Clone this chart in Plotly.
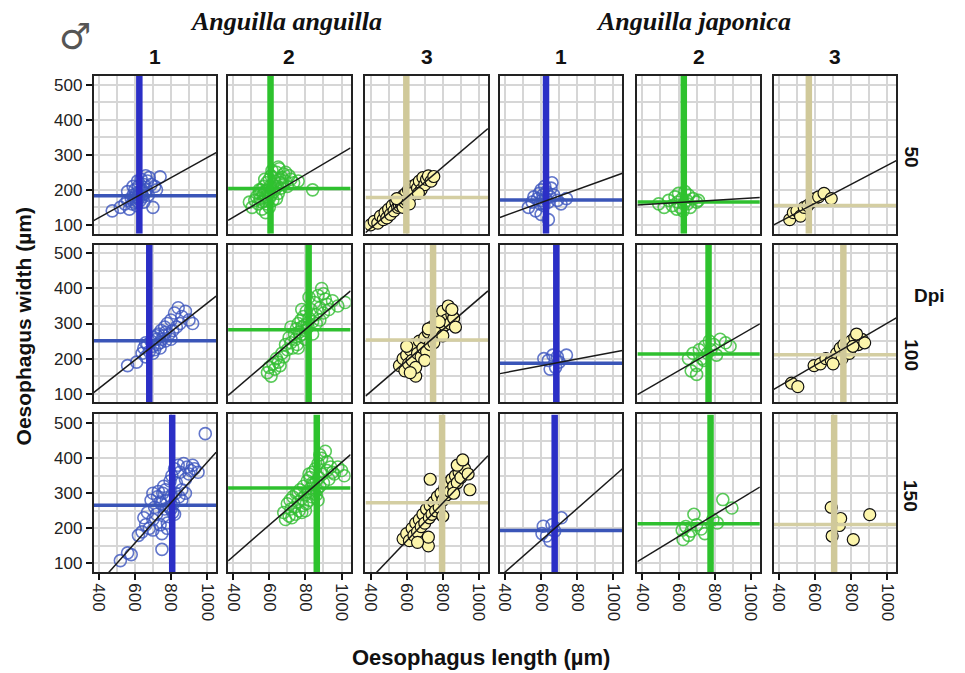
import plotly.graph_objects as go

# ---------------- data ----------------
groups = ["1", "2", "3", "1", "2", "3"]
species = ["Anguilla anguilla", "Anguilla japonica"]
dpi_labels = ["50", "100", "150"]
x_ticks = [400, 600, 800, 1000]
y_ticks = [100, 200, 300, 400, 500]

# 50 dpi
aa1_50_x = [475, 520, 545, 560, 570, 580, 585, 590, 595, 600, 600, 605, 610, 610, 615, 620, 620, 625, 630, 630, 635, 640, 640, 645, 650, 655, 660, 665, 670, 675, 680, 690, 700, 710, 720, 740, 560, 590, 615, 650]
aa1_50_y = [140, 150, 160, 170, 145, 175, 160, 185, 165, 180, 200, 170, 190, 155, 180, 210, 175, 185, 195, 170, 230, 200, 185, 180, 215, 190, 240, 200, 225, 185, 235, 215, 150, 210, 200, 237, 195, 210, 225, 165]
aa2_50_x = [490, 505, 520, 530, 540, 545, 550, 555, 560, 565, 570, 570, 575, 580, 585, 585, 590, 595, 600, 600, 605, 610, 610, 615, 620, 625, 630, 635, 640, 645, 650, 655, 660, 665, 670, 675, 680, 690, 700, 710, 720, 735, 760, 840, 560, 580, 600, 620, 640, 660, 545, 575, 615, 650, 690]
aa2_50_y = [165, 150, 170, 180, 160, 190, 175, 200, 165, 185, 210, 170, 195, 180, 220, 160, 200, 190, 230, 175, 210, 185, 240, 200, 215, 195, 225, 205, 250, 210, 190, 260, 220, 205, 235, 215, 245, 225, 210, 240, 230, 220, 225, 200, 145, 135, 150, 170, 175, 230, 200, 230, 255, 265, 250]
aa3_50_x = [400, 420, 440, 455, 470, 480, 490, 500, 510, 520, 530, 540, 550, 555, 560, 565, 570, 575, 580, 585, 590, 595, 600, 610, 620, 630, 640, 650, 660, 670, 680, 690, 700, 710, 720, 735, 750, 545, 615, 665]
aa3_50_y = [100, 110, 105, 125, 115, 135, 120, 145, 130, 155, 140, 165, 150, 170, 155, 175, 160, 180, 150, 185, 165, 190, 170, 200, 180, 210, 195, 215, 205, 225, 200, 235, 215, 230, 240, 225, 238, 175, 160, 190]
aj1_50_x = [530, 550, 560, 570, 580, 590, 595, 600, 605, 610, 615, 620, 625, 630, 640, 650, 660, 670, 690, 710, 740, 600, 640, 655]
aj1_50_y = [150, 165, 180, 140, 175, 190, 160, 200, 170, 185, 155, 210, 175, 195, 165, 180, 220, 185, 170, 160, 175, 130, 115, 205]
aj2_50_x = [490, 520, 545, 565, 580, 595, 600, 610, 620, 630, 635, 645, 655, 665, 680, 700, 710, 625, 590, 650]
aj2_50_y = [160, 150, 170, 155, 180, 165, 190, 150, 175, 160, 195, 170, 185, 150, 175, 165, 170, 140, 145, 160]
aj3_50_x = [460, 480, 500, 520, 540, 560, 580, 600, 620, 650, 690]
aj3_50_y = [115, 135, 140, 125, 150, 155, 165, 175, 180, 190, 175]

# 100 dpi
aa1_100_x = [560, 610, 640, 650, 660, 670, 680, 690, 700, 705, 710, 720, 725, 730, 740, 745, 750, 760, 765, 770, 780, 790, 800, 810, 820, 830, 840, 850, 860, 880, 900, 920, 700, 740, 770, 800, 660, 720]
aa1_100_y = [180, 190, 215, 230, 205, 240, 220, 250, 235, 260, 225, 255, 240, 270, 245, 280, 255, 265, 290, 250, 300, 270, 310, 280, 330, 290, 345, 300, 320, 335, 310, 300, 215, 230, 275, 255, 245, 265]
aa2_100_x = [590, 600, 610, 620, 630, 640, 650, 660, 670, 680, 690, 700, 710, 720, 730, 740, 745, 750, 755, 760, 765, 770, 775, 780, 785, 790, 795, 800, 805, 810, 815, 820, 830, 840, 850, 860, 870, 880, 890, 900, 910, 920, 930, 950, 980, 1020, 760, 800, 840, 880, 720, 860, 900, 780, 820]
aa2_100_y = [160, 175, 150, 185, 170, 200, 190, 180, 215, 205, 240, 225, 260, 245, 230, 270, 255, 285, 240, 300, 275, 265, 310, 290, 270, 320, 295, 280, 335, 300, 290, 315, 340, 305, 360, 325, 380, 345, 400, 330, 370, 355, 340, 365, 350, 360, 230, 255, 270, 310, 290, 300, 385, 340, 375]
aa3_100_x = [560, 580, 590, 600, 610, 620, 630, 640, 650, 660, 670, 680, 690, 700, 710, 720, 730, 740, 750, 760, 770, 780, 790, 800, 810, 820, 830, 840, 850, 860, 870, 600, 650, 700, 750, 800, 850, 720, 780, 620]
aa3_100_y = [180, 200, 165, 210, 185, 225, 195, 240, 150, 215, 250, 205, 230, 260, 220, 275, 240, 290, 255, 300, 265, 320, 280, 335, 295, 310, 350, 300, 325, 315, 290, 235, 175, 195, 245, 265, 340, 285, 305, 160]
aj1_100_x = [615, 640, 665, 690, 700, 740, 650, 680]
aj1_100_y = [200, 195, 210, 205, 190, 210, 170, 175]
aj2_100_x = [655, 670, 680, 700, 715, 730, 745, 760, 770, 780, 795, 810, 830, 860, 885, 700, 740]
aj2_100_y = [200, 165, 215, 180, 225, 200, 235, 215, 250, 225, 240, 210, 255, 245, 235, 155, 195]
aj3_100_x = [470, 505, 595, 630, 660, 690, 720, 740, 760, 780, 800, 820, 840, 860, 875, 750, 790, 810, 700, 830]
aj3_100_y = [130, 120, 180, 185, 200, 195, 215, 230, 240, 225, 250, 260, 240, 255, 245, 200, 215, 235, 185, 270]

# 150 dpi
aa1_150_x = [520, 560, 580, 620, 640, 650, 660, 670, 680, 690, 700, 700, 710, 720, 725, 730, 740, 745, 750, 755, 760, 765, 770, 775, 780, 790, 795, 800, 805, 810, 815, 820, 825, 830, 840, 845, 850, 860, 870, 880, 890, 900, 910, 920, 930, 950, 990, 750, 780, 820, 860, 700, 760, 880, 740, 800]
aa1_150_y = [108, 130, 125, 180, 190, 230, 210, 245, 200, 280, 225, 300, 260, 240, 290, 305, 210, 270, 140, 300, 235, 255, 310, 280, 215, 260, 335, 290, 350, 245, 270, 370, 300, 330, 380, 290, 360, 310, 385, 340, 375, 355, 365, 380, 370, 360, 470, 185, 200, 240, 280, 195, 320, 300, 275, 255]
aa2_150_x = [680, 690, 700, 710, 715, 720, 725, 730, 740, 745, 750, 760, 765, 770, 780, 785, 790, 800, 805, 810, 815, 820, 825, 830, 835, 840, 845, 850, 855, 860, 865, 870, 875, 880, 890, 895, 900, 910, 920, 930, 940, 950, 960, 980, 1000, 1015, 760, 800, 840, 880, 920, 860, 820, 780, 870]
aa2_150_y = [245, 225, 270, 235, 280, 255, 230, 290, 260, 240, 300, 275, 250, 310, 285, 265, 320, 295, 270, 335, 305, 280, 345, 315, 290, 360, 325, 300, 370, 335, 310, 385, 345, 320, 400, 355, 330, 420, 365, 340, 375, 360, 355, 375, 365, 350, 300, 250, 330, 410, 390, 295, 355, 245, 280]
aa3_150_x = [580, 600, 615, 630, 640, 650, 660, 670, 680, 690, 700, 710, 720, 725, 730, 740, 750, 760, 770, 780, 790, 800, 810, 820, 830, 840, 850, 860, 870, 880, 890, 900, 910, 920, 940, 950, 730, 720, 800, 860, 660, 880, 910]
aa3_150_y = [170, 185, 165, 200, 180, 215, 190, 225, 205, 240, 215, 255, 150, 230, 265, 240, 275, 250, 290, 260, 300, 280, 315, 295, 330, 305, 340, 320, 350, 330, 360, 345, 390, 370, 355, 310, 340, 175, 235, 300, 160, 380, 395]
aj1_150_x = [605, 612, 630, 650, 675, 712, 660]
aj1_150_y = [185, 206, 178, 164, 192, 230, 210]
aj2_150_x = [620, 625, 640, 655, 670, 685, 700, 725, 745, 790, 815, 845, 895]
aj2_150_y = [195, 168, 205, 180, 192, 240, 210, 198, 185, 225, 215, 282, 258]
aj3_150_x = [690, 735, 742, 695, 812, 903]
aj3_150_y = [260, 208, 228, 178, 168, 239]

# group means (reference lines)
mean_x_50 = [625, 607, 598, 627, 629, 566]
mean_y_50 = [183, 204, 178, 171, 165, 155]
mean_x_100 = [680, 818, 746, 684, 766, 757]
mean_y_100 = [251, 282, 253, 187, 213, 211]
mean_x_150 = [807, 863, 796, 675, 777, 706]
mean_y_150 = [266, 315, 273, 194, 213, 211]

# fitted lines (intercept, slope)
slope_50 = [0.286, 0.305, 0.438, 0.186, 0.031, 0.27]
icpt_50 = [5.6, -0.5, -85, 52, 145.5, -0.4]
slope_100 = [0.406, 0.44, 0.4425, 0.097, 0.298, 0.301]
icpt_100 = [-48, -68.6, -71.6, 121, -13.8, 0]
slope_150 = [0.577, 0.447, 0.54, 0.454, 0.314, None]
icpt_150 = [-188.7, -59, -159.7, -106.7, -11.9, None]

# ---------------- assembly ----------------
pts = [
    [(aa1_50_x, aa1_50_y), (aa2_50_x, aa2_50_y), (aa3_50_x, aa3_50_y),
     (aj1_50_x, aj1_50_y), (aj2_50_x, aj2_50_y), (aj3_50_x, aj3_50_y)],
    [(aa1_100_x, aa1_100_y), (aa2_100_x, aa2_100_y), (aa3_100_x, aa3_100_y),
     (aj1_100_x, aj1_100_y), (aj2_100_x, aj2_100_y), (aj3_100_x, aj3_100_y)],
    [(aa1_150_x, aa1_150_y), (aa2_150_x, aa2_150_y), (aa3_150_x, aa3_150_y),
     (aj1_150_x, aj1_150_y), (aj2_150_x, aj2_150_y), (aj3_150_x, aj3_150_y)],
]
means_x = [mean_x_50, mean_x_100, mean_x_150]
means_y = [mean_y_50, mean_y_100, mean_y_150]
slopes = [slope_50, slope_100, slope_150]
icpts = [icpt_50, icpt_100, icpt_150]

XR = [372, 1050]
YR = [75, 525]

W, H = 965, 673
col_left = [90, 225, 363, 498, 636, 773]
panel_w = 123
row_top = [76, 245, 415]
panel_h = 158

styles = {
    "1": dict(mk=dict(symbol="circle-open", size=12, color="rgba(60,85,190,0.8)",
                      line=dict(width=1.6, color="rgba(60,85,190,0.8)")),
              vcol="#2b2fc6", hcol="#3a55b8"),
    "2": dict(mk=dict(symbol="circle-open", size=12, color="rgba(50,190,50,0.8)",
                      line=dict(width=1.6, color="rgba(50,190,50,0.8)")),
              vcol="#2ec22e", hcol="#2fc02f"),
    "3": dict(mk=dict(symbol="circle", size=12, color="#fcf5ab",
                      line=dict(width=1.2, color="#111111")),
              vcol="#d0c99a", hcol="#d4cea2"),
}

fig = go.Figure()
layout = dict()
grid_col = "#d6d6d6"

for r in range(3):
    for c in range(6):
        k = r * 6 + c + 1
        xa = "x" if k == 1 else f"x{k}"
        ya = "y" if k == 1 else f"y{k}"
        st = styles[groups[c]]
        px, py = pts[r][c]
        fig.add_trace(go.Scatter(x=px, y=py, mode="markers", marker=st["mk"],
                                 xaxis=xa, yaxis=ya, showlegend=False, hoverinfo="skip"))
        mx, my = means_x[r][c], means_y[r][c]
        fig.add_trace(go.Scatter(x=XR, y=[my, my], mode="lines",
                                 line=dict(color=st["hcol"], width=3.5),
                                 xaxis=xa, yaxis=ya, showlegend=False, hoverinfo="skip"))
        fig.add_trace(go.Scatter(x=[mx, mx], y=YR, mode="lines",
                                 line=dict(color=st["vcol"], width=6.5),
                                 xaxis=xa, yaxis=ya, showlegend=False, hoverinfo="skip"))
        if slopes[r][c] is not None:
            fx = XR
            fy = [icpts[r][c] + slopes[r][c] * v for v in fx]
            fig.add_trace(go.Scatter(x=fx, y=fy, mode="lines",
                                     line=dict(color="#1a1a1a", width=1.5),
                                     xaxis=xa, yaxis=ya, showlegend=False, hoverinfo="skip"))

        x0 = col_left[c] / W
        x1 = (col_left[c] + panel_w) / W
        y1 = 1 - row_top[r] / H
        y0 = 1 - (row_top[r] + panel_h) / H
        xkey = "xaxis" if k == 1 else f"xaxis{k}"
        ykey = "yaxis" if k == 1 else f"yaxis{k}"
        bottom = (r == 2)
        left = (c == 0)
        layout[xkey] = dict(
            domain=[x0, x1], anchor=ya, range=XR, tickmode="array", tickvals=x_ticks,
            ticktext=[str(v) for v in x_ticks],
            showticklabels=bottom, ticks="outside" if bottom else "", ticklen=6,
            tickwidth=1.5, tickcolor="#111", tickangle=90,
            tickfont=dict(family="Liberation Sans, Arial", size=17, color="#222"),
            showgrid=True, gridcolor=grid_col, gridwidth=1.5,
            minor=dict(tickvals=[500, 700, 900], showgrid=True, gridcolor=grid_col,
                       gridwidth=1.5, ticks=""),
            showline=True, linecolor="#222", linewidth=1.5, mirror=True,
            zeroline=False, fixedrange=True,
        )
        layout[ykey] = dict(
            domain=[y0, y1], anchor=xa, range=YR, tickmode="array", tickvals=y_ticks,
            ticktext=[str(v) for v in y_ticks],
            showticklabels=left, ticks="outside" if left else "", ticklen=6,
            tickwidth=1.5, tickcolor="#111",
            tickfont=dict(family="Liberation Sans, Arial", size=17, color="#222"),
            showgrid=True, gridcolor=grid_col, gridwidth=1.5,
            minor=dict(tickvals=[150, 250, 350, 450], showgrid=True, gridcolor=grid_col,
                       gridwidth=1.5, ticks=""),
            showline=True, linecolor="#222", linewidth=1.5, mirror=True,
            zeroline=False, fixedrange=True,
        )

ann = []
def A(text, xp, yp, size, bold=True, italic=False, family="Liberation Sans, Arial",
      angle=0, color="#111"):
    t = text
    if bold:
        t = f"<b>{t}</b>"
    if italic:
        t = f"<i>{t}</i>"
    ann.append(dict(text=t, x=xp / W, y=1 - yp / H, xref="paper", yref="paper",
                    xanchor="center", yanchor="middle", showarrow=False,
                    textangle=angle, font=dict(family=family, size=size, color=color)))

A("♂", 71, 37, 36, bold=False, family="DejaVu Sans", color="#555")
A(species[0], 283, 22, 26, italic=True, family="Liberation Serif, Times New Roman")
A(species[1], 692, 22, 26, italic=True, family="Liberation Serif, Times New Roman")
for c in range(6):
    A(groups[c], col_left[c] + panel_w / 2, 57, 21)
row_lab_y = [157, 356, 497]
for r in range(3):
    A(dpi_labels[r], 911, row_lab_y[r], 19, angle=90)
A("Dpi", 929, 296, 19)
A("Oesophagus width (µm)", 20, 327, 21, angle=-90)
A("Oesophagus length (µm)", 479, 658, 22)

fig.update_layout(
    width=W, height=H, margin=dict(l=0, r=0, t=0, b=0),
    plot_bgcolor="white", paper_bgcolor="white", showlegend=False,
    annotations=ann, **layout,
)

fig.write_html("out.html")
